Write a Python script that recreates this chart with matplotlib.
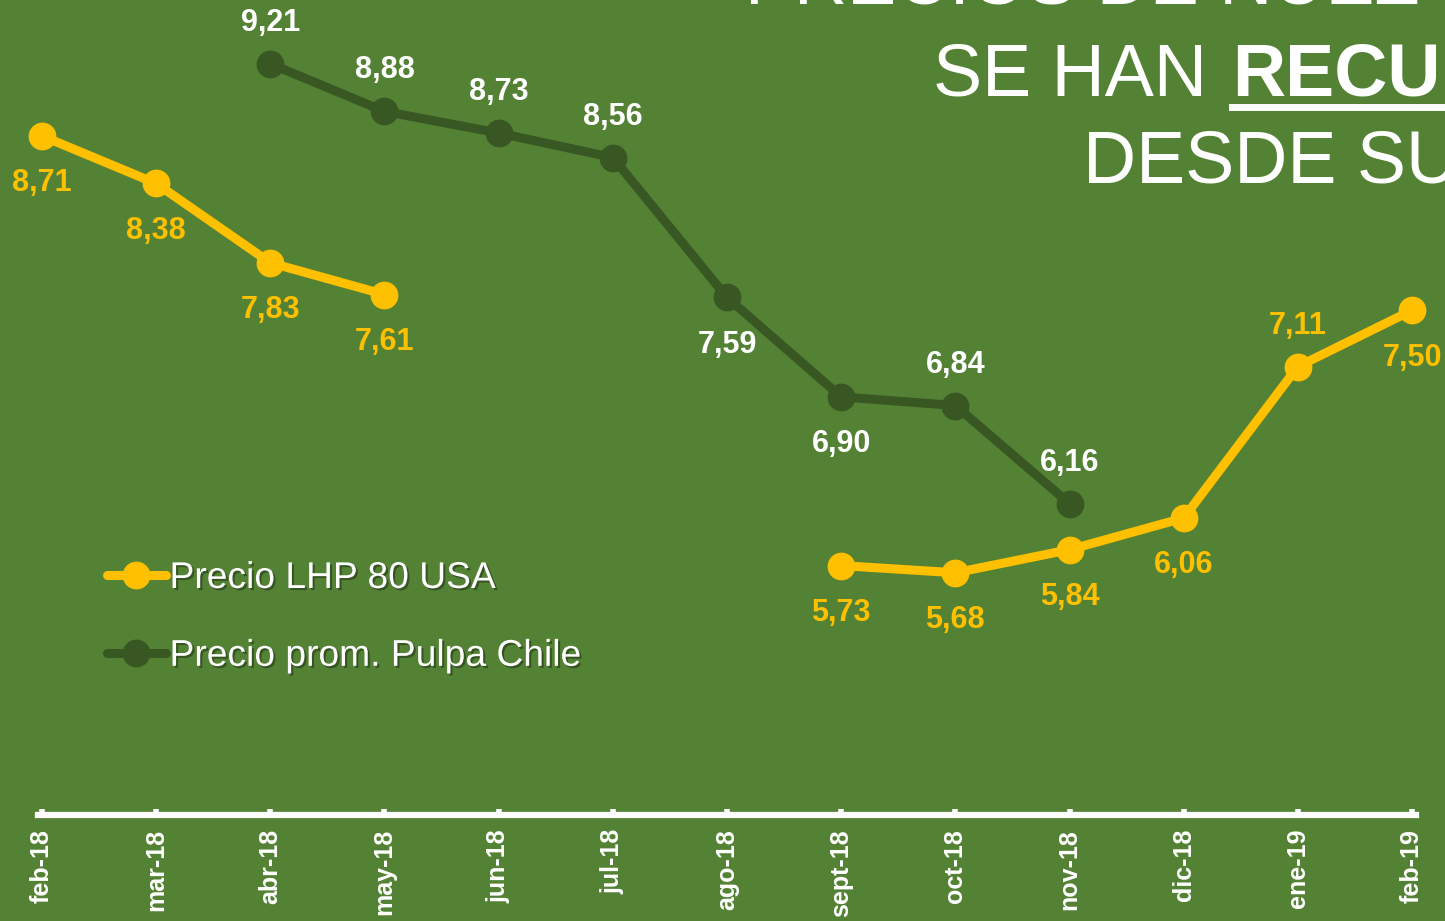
import numpy as np
import matplotlib
matplotlib.use('Agg')
import matplotlib.pyplot as plt
import matplotlib.patheffects as pe
from matplotlib.lines import Line2D

plt.rcParams['font.family'] = ['Liberation Sans', 'DejaVu Sans']

# data
months = ['feb-18', 'mar-18', 'abr-18', 'may-18', 'jun-18', 'jul-18', 'ago-18',
          'sept-18', 'oct-18', 'nov-18', 'dic-18', 'ene-19', 'feb-19']
lhp_usa = [8.71, 8.38, 7.83, 7.61, np.nan, np.nan, np.nan,
           5.73, 5.68, 5.84, 6.06, 7.11, 7.50]
pulpa_chile = [np.nan, np.nan, 9.21, 8.88, 8.73, 8.56, 7.59,
               6.90, 6.84, 6.16, np.nan, np.nan, np.nan]
# label side: 1 above, -1 below
lhp_side = [-1, -1, -1, -1, 0, 0, 0, -1, -1, -1, -1, 1, -1]
pulpa_side = [0, 0, 1, 1, 1, 1, -1, -1, 1, 1, 0, 0, 0]

bg = '#548235'
yellow = '#FFC000'
dark = '#385723'

W, H = 1445, 921
fig = plt.figure(figsize=(W / 100, H / 100), dpi=100)
fig.patch.set_facecolor(bg)

# axes placed in pixel terms
left, right, bottom, top = 38, 1416, 815, 22
ax = fig.add_axes([left / W, (H - bottom) / H, (right - left) / W, (bottom - top) / H])
ax.set_facecolor(bg)
x = np.arange(len(months))

ax.plot(x, pulpa_chile, color=dark, lw=6.5, marker='o', ms=19,
        solid_capstyle='round', clip_on=False, zorder=3, label='Precio prom. Pulpa Chile')
ax.plot(x, lhp_usa, color=yellow, lw=6.5, marker='o', ms=19,
        solid_capstyle='round', clip_on=False, zorder=4, label='Precio LHP 80 USA')

def fmt(v):
    return f'{v:.2f}'.replace('.', ',')

def offset(s):
    # text box centre sits a little above the digits' visual centre
    return 29.5 if s > 0 else -34

for i, (v, s) in enumerate(zip(lhp_usa, lhp_side)):
    if np.isnan(v):
        continue
    ax.annotate(fmt(v), (i, v), xytext=(0, offset(s)), textcoords='offset points',
                ha='center', va='center', color=yellow, fontsize=22,
                fontweight='bold', annotation_clip=False)
for i, (v, s) in enumerate(zip(pulpa_chile, pulpa_side)):
    if np.isnan(v):
        continue
    ax.annotate(fmt(v), (i, v), xytext=(0, offset(s)), textcoords='offset points',
                ha='center', va='center', color='white', fontsize=22,
                fontweight='bold', annotation_clip=False)

ax.set_xlim(-4 / 114.17, 12 + 4 / 114.17)
ax.set_ylim(4.0, 9.5)
ax.set_xticks(x)
ax.set_xticklabels(months, rotation=90, color='white', fontsize=18, fontweight='bold')
ax.tick_params(axis='x', direction='in', length=4, width=4, color='white', pad=10)
ax.set_yticks([])
for s in ['top', 'right', 'left']:
    ax.spines[s].set_visible(False)
ax.spines['bottom'].set_color('white')
ax.spines['bottom'].set_linewidth(4.5)

# legend (yellow first)
h, l = ax.get_legend_handles_labels()
leg = ax.legend(h[::-1], l[::-1], loc='upper left', frameon=False,
                bbox_to_anchor=(107 / W, 1 - 561 / H), bbox_transform=fig.transFigure,
                fontsize=26.8, handlelength=1.58, handletextpad=0.1,
                labelspacing=1.15, borderpad=0, borderaxespad=0, numpoints=1)
for t in leg.get_texts():
    t.set_color('white')
    t.set_path_effects([pe.withSimplePatchShadow(offset=(1.5, -1.5),
                                                 shadow_rgbFace='black', alpha=0.35)])

# title, clipped by the figure edge like the slide
tfont = dict(color='white', fontsize=53, va='baseline', ha='left')
fig.text(745 / W, 1 - 4 / H, 'PRECIOS DE NUEZ', **tfont)
fig.text(933 / W, 1 - 95 / H, 'SE HAN', **tfont)
fig.text(1232 / W, 1 - 95 / H, 'RECUPERADO', fontweight='bold', **tfont)
fig.text(1083 / W, 1 - 183 / H, 'DESDE SU MÍNIMO', **tfont)
fig.add_artist(Line2D([1232 / W, 1.05], [1 - 107 / H, 1 - 107 / H],
                      transform=fig.transFigure, color='white', lw=5))

fig.savefig('out.png', dpi=100, facecolor=bg)
